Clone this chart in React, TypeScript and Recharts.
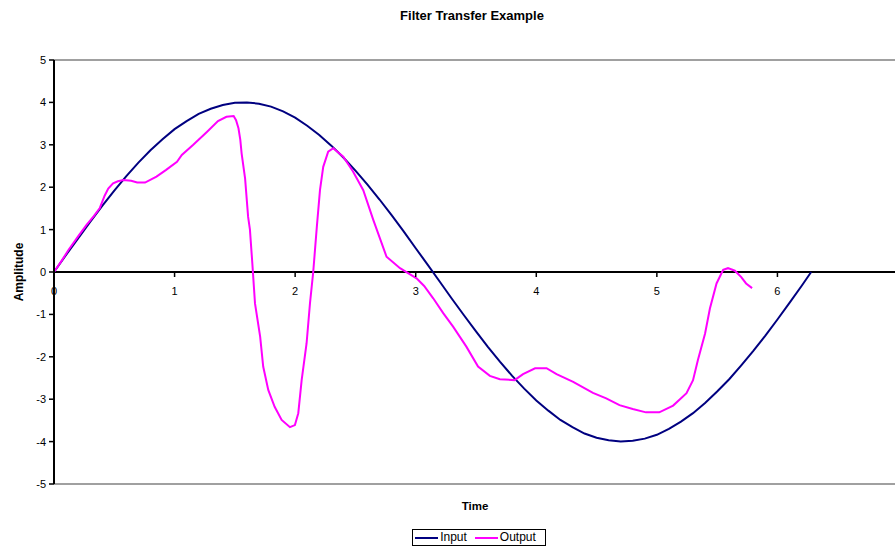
import React from 'react';
import {
  LineChart,
  Line,
  XAxis,
  YAxis,
  ReferenceLine,
  ReferenceDot,
  Legend
} from 'recharts';

// Input signal samples
const inputTime = [
  0, 0.1, 0.2, 0.3, 0.4, 0.5, 0.6, 0.7, 0.8, 0.9,
  1.0, 1.1, 1.2, 1.3, 1.4, 1.5, 1.6, 1.7, 1.8, 1.9,
  2.0, 2.1, 2.2, 2.3, 2.4, 2.5, 2.6, 2.7, 2.8, 2.9,
  3.0, 3.1, 3.2, 3.3, 3.4, 3.5, 3.6, 3.7, 3.8, 3.9,
  4.0, 4.1, 4.2, 4.3, 4.4, 4.5, 4.6, 4.7, 4.8, 4.9,
  5.0, 5.1, 5.2, 5.3, 5.4, 5.5, 5.6, 5.7, 5.8, 5.9,
  6.0, 6.1, 6.2, 6.28
];
const inputAmp = [
  0, 0.4, 0.79, 1.18, 1.56, 1.92, 2.26, 2.58, 2.87, 3.13,
  3.37, 3.56, 3.73, 3.85, 3.94, 3.99, 4.0, 3.97, 3.9, 3.79,
  3.64, 3.45, 3.23, 2.98, 2.7, 2.39, 2.06, 1.71, 1.34, 0.96,
  0.56, 0.17, -0.23, -0.63, -1.02, -1.4, -1.77, -2.12, -2.45, -2.75,
  -3.03, -3.27, -3.49, -3.66, -3.81, -3.91, -3.97, -4.0, -3.98, -3.93,
  -3.84, -3.7, -3.53, -3.33, -3.09, -2.82, -2.53, -2.2, -1.86, -1.5,
  -1.12, -0.73, -0.33, 0
];

// Filter output samples
const outputTime = [
  0, 0.06, 0.12, 0.2, 0.27, 0.33, 0.38, 0.42, 0.45, 0.49,
  0.53, 0.575, 0.64, 0.69, 0.755, 0.85, 0.93, 1.02, 1.06, 1.155,
  1.27, 1.36, 1.43, 1.49, 1.51, 1.53, 1.545, 1.556, 1.585, 1.61,
  1.625, 1.645, 1.667, 1.71, 1.735, 1.777, 1.83, 1.888, 1.957, 1.998,
  2.026, 2.054, 2.095, 2.123, 2.15, 2.18, 2.206, 2.233, 2.274, 2.316,
  2.399, 2.48, 2.565, 2.648, 2.758, 2.87, 2.94, 3.007, 3.07, 3.145,
  3.228, 3.31, 3.42, 3.517, 3.615, 3.698, 3.82, 3.89, 3.99, 4.085,
  4.168, 4.306, 4.47, 4.58, 4.69, 4.8, 4.91, 5.02, 5.135, 5.246,
  5.3, 5.34, 5.4, 5.44, 5.495, 5.55, 5.59, 5.647, 5.7, 5.74, 5.79
];
const outputAmp = [
  0, 0.25, 0.52, 0.84, 1.11, 1.32, 1.51, 1.8, 1.97, 2.09,
  2.14, 2.17, 2.15, 2.11, 2.11, 2.25, 2.41, 2.6, 2.76, 3.0,
  3.31, 3.56, 3.66, 3.68, 3.58, 3.39, 3.12, 2.8, 2.2, 1.3,
  1.0, 0.2, -0.74, -1.53, -2.23, -2.78, -3.18, -3.49, -3.66, -3.61,
  -3.33, -2.55, -1.68, -0.74, 0, 1.07, 1.93, 2.48, 2.84, 2.92,
  2.72, 2.37, 1.93, 1.23, 0.36, 0.09, -0.03, -0.15, -0.33, -0.62,
  -0.97, -1.29, -1.76, -2.23, -2.45, -2.53, -2.55, -2.41, -2.27, -2.27,
  -2.41, -2.59, -2.85, -2.98, -3.14, -3.23, -3.31, -3.31, -3.15, -2.86,
  -2.55, -2.08, -1.45, -0.86, -0.27, 0.05, 0.09, 0.03, -0.12, -0.27, -0.38
];

const timeTicks = [0, 1, 2, 3, 4, 5, 6];
const ampTicks = [-5, -4, -3, -2, -1, 0, 1, 2, 3, 4, 5];

const inputData = inputTime.map((t, i) => ({ t, v: inputAmp[i] }));
const outputData = outputTime.map((t, i) => ({ t, v: outputAmp[i] }));

const FONT = '"Liberation Sans", Arial, sans-serif';

const TimeTick = (props: any) => {
  const { cx, cy, label } = props;
  return (
    <g>
      <line x1={cx} y1={cy} x2={cx} y2={cy + 5} stroke="#000" strokeWidth={1.5} />
      <text x={cx} y={cy + 23} textAnchor="middle" fontSize={11} fontFamily={FONT} fill="#000">
        {label}
      </text>
    </g>
  );
};

const AmplitudeLabel = (props: any) => {
  const { viewBox } = props;
  const x = viewBox.x + 19;
  const y = viewBox.y + viewBox.height / 2;
  return (
    <text
      x={x}
      y={y}
      transform={`rotate(-90, ${x}, ${y})`}
      textAnchor="middle"
      dominantBaseline="central"
      fontSize={12}
      fontWeight="bold"
      fontFamily={FONT}
      fill="#000"
    >
      Amplitude
    </text>
  );
};

const LegendBox = (props: any) => {
  const { payload } = props;
  return (
    <div style={{ display: 'flex', justifyContent: 'center' }}>
      <div
        style={{
          display: 'flex',
          alignItems: 'center',
          border: '1px solid #000',
          padding: '1px 9px 1px 2px',
          fontSize: 12,
          lineHeight: '13px',
          fontFamily: FONT,
          color: '#000'
        }}
      >
        {(payload || []).map((entry: any, i: number) => (
          <div key={entry.value} style={{ display: 'flex', alignItems: 'center', marginLeft: i ? 8 : 0 }}>
            <svg width={23} height={4}>
              <line x1={0} y1={2} x2={23} y2={2} stroke={entry.color} strokeWidth={2} />
            </svg>
            <span style={{ marginLeft: 2 }}>{entry.value}</span>
          </div>
        ))}
      </div>
    </div>
  );
};

export default function App() {
  return (
    <div
      style={{
        position: 'absolute',
        left: 0,
        top: 0,
        width: 895,
        height: 548,
        overflow: 'hidden',
        background: '#fff',
        fontFamily: FONT
      }}
    >
      <div
        style={{
          position: 'absolute',
          top: 8,
          left: 472,
          transform: 'translateX(-50%)',
          fontSize: 13,
          fontWeight: 'bold',
          whiteSpace: 'nowrap'
        }}
      >
        Filter Transfer Example
      </div>
      <div
        style={{
          position: 'absolute',
          top: 500,
          left: 475,
          transform: 'translateX(-50%)',
          fontSize: 11.5,
          fontWeight: 'bold'
        }}
      >
        Time
      </div>
      <LineChart width={899} height={548} margin={{ top: 60, right: 1, bottom: 64, left: 0 }}>
        <XAxis dataKey="t" type="number" domain={[0, 7]} hide />
        <YAxis
          type="number"
          domain={[-5, 5]}
          ticks={ampTicks}
          width={54}
          interval={0}
          axisLine={{ stroke: '#000', strokeWidth: 2 }}
          tickLine={{ stroke: '#000', strokeWidth: 1.5 }}
          tickSize={5}
          tickMargin={3}
          tick={{ fill: '#000', fontSize: 11, fontFamily: FONT }}
          label={<AmplitudeLabel />}
        />
        <ReferenceLine y={5} stroke="#808080" strokeWidth={1.5} />
        <ReferenceLine y={-5} stroke="#808080" strokeWidth={1.5} />
        <ReferenceLine y={0} stroke="#000" strokeWidth={2} />
        {timeTicks.map((t) => (
          <ReferenceDot
            key={t}
            x={t}
            y={0}
            ifOverflow="visible"
            shape={(p: any) => <TimeTick {...p} label={t} />}
          />
        ))}
        <Line
          data={inputData}
          dataKey="v"
          name="Input"
          type="linear"
          stroke="#000080"
          strokeWidth={2}
          dot={false}
          isAnimationActive={false}
        />
        <Line
          data={outputData}
          dataKey="v"
          name="Output"
          type="linear"
          stroke="#ff00ff"
          strokeWidth={2}
          dot={false}
          isAnimationActive={false}
        />
        <Legend
          layout="horizontal"
          verticalAlign="middle"
          align="center"
          content={<LegendBox />}
          wrapperStyle={{ top: 529, left: 0, width: 958 }}
        />
      </LineChart>
    </div>
  );
}
